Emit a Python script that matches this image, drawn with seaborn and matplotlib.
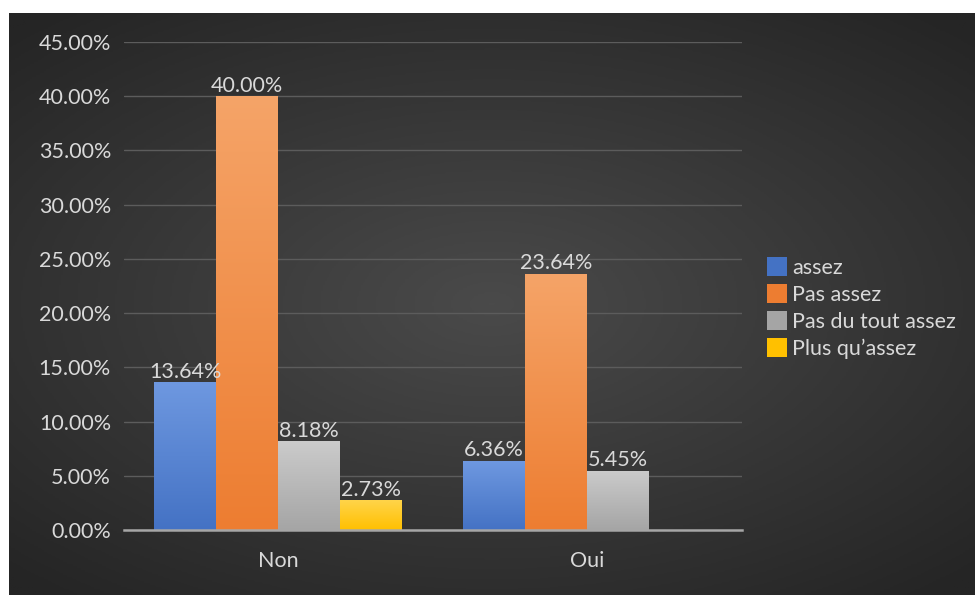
import numpy as np
import pandas as pd
import matplotlib
matplotlib.use("Agg")
import matplotlib.pyplot as plt
import matplotlib.colors as mcolors
import seaborn as sns

categories = ["Non", "Oui"]
series = ["assez", "Pas assez", "Pas du tout assez", "Plus qu\u2019assez"]
non_values = [0.1364, 0.4000, 0.0818, 0.0273]
oui_values = [0.0636, 0.2364, 0.0545, np.nan]
yticks = [0.0, 0.05, 0.10, 0.15, 0.20, 0.25, 0.30, 0.35, 0.40, 0.45]

colors = ["#4472C4", "#ED7D31", "#A5A5A5", "#FFC000"]
tops = ["#6E98E0", "#F5A468", "#CBCBCB", "#FFD44A"]
text_c = "#D9D9D9"

rows = []
for cat, vals in zip(categories, [non_values, oui_values]):
    for s, v in zip(series, vals):
        rows.append({"cat": cat, "series": s, "value": v})
df = pd.DataFrame(rows)

sns.set_theme(style="dark")
plt.rcParams["font.family"] = ["Lato", "DejaVu Sans"]

fig = plt.figure(figsize=(9.75, 5.95), dpi=100)
fig.patch.set_facecolor("white")

# dark radial-gradient background
bg = fig.add_axes([9 / 975, 0, 1 - 9 / 975, 1 - 13 / 595], zorder=-10)
yy, xx = np.mgrid[-1:1:300j, -1:1:500j]
r = np.sqrt((xx * 0.9) ** 2 + (yy * 1.0) ** 2)
g = np.clip(1 - r / 1.3, 0, 1)
cmap_bg = mcolors.LinearSegmentedColormap.from_list("bg", ["#252525", "#4a4a4a"])
bg.imshow(g, cmap=cmap_bg, aspect="auto", extent=[0, 1, 0, 1], origin="lower")
bg.set_axis_off()

ax = fig.add_axes([123.5 / 975, 1 - 530 / 595, 618 / 975, 488 / 595])
ax.set_facecolor("none")

sns.barplot(data=df, x="cat", y="value", hue="series", hue_order=series,
            palette=colors, width=0.8, ax=ax, saturation=1, legend=False,
            edgecolor="none", linewidth=0, zorder=3)

ax.set_ylim(0, 0.45)
xl = ax.get_xlim()

fs = 15.5
# gradients and labels
for i, patch in enumerate(ax.patches):
    h = patch.get_height()
    if not np.isfinite(h) or h <= 0:
        continue
    sidx = i // len(categories)
    x0 = patch.get_x()
    w = patch.get_width()
    cm = mcolors.LinearSegmentedColormap.from_list("g%d" % i, [colors[sidx], tops[sidx]])
    grad = np.linspace(0, 1, 256).reshape(-1, 1)
    im = ax.imshow(grad, cmap=cm, aspect="auto", extent=[x0, x0 + w, 0, h],
                   origin="lower", zorder=3.5)
    im.set_clip_path(patch)
    ax.text(x0 + w / 2, h + 0.0005, f"{h * 100:.2f}%", ha="center", va="bottom",
            color=text_c, fontsize=fs, zorder=5)

ax.set_xlim(xl)
ax.set_ylim(0, 0.45)

ax.set_yticks(yticks)
ax.set_yticklabels([f"{v * 100:.2f}%" for v in yticks])
ax.yaxis.grid(True, color="#5c5c5c", linewidth=1)
ax.xaxis.grid(False)
ax.set_axisbelow(True)
for s in ["top", "right", "left"]:
    ax.spines[s].set_visible(False)
ax.spines["bottom"].set_visible(True)
ax.spines["bottom"].set_color("#A6A6A6")
ax.spines["bottom"].set_linewidth(1.8)
ax.spines["bottom"].set_zorder(6)
ax.tick_params(axis="y", length=0, pad=9, labelsize=fs, labelcolor=text_c)
ax.tick_params(axis="x", length=0, pad=15, labelsize=fs, labelcolor=text_c)
ax.set_xlabel("")
ax.set_ylabel("")

from matplotlib.patches import Patch
handles = [Patch(facecolor=c, edgecolor="none") for c in colors]
fig.legend(handles, series, loc="center left", bbox_to_anchor=(767 / 975, 1 - 308 / 595),
           frameon=False, fontsize=fs, labelcolor=text_c, handlelength=0.95,
           handleheight=0.95, handletextpad=0.2, labelspacing=0.3, borderpad=0,
           borderaxespad=0)

fig.savefig("out.png", dpi=100, facecolor=fig.get_facecolor())
